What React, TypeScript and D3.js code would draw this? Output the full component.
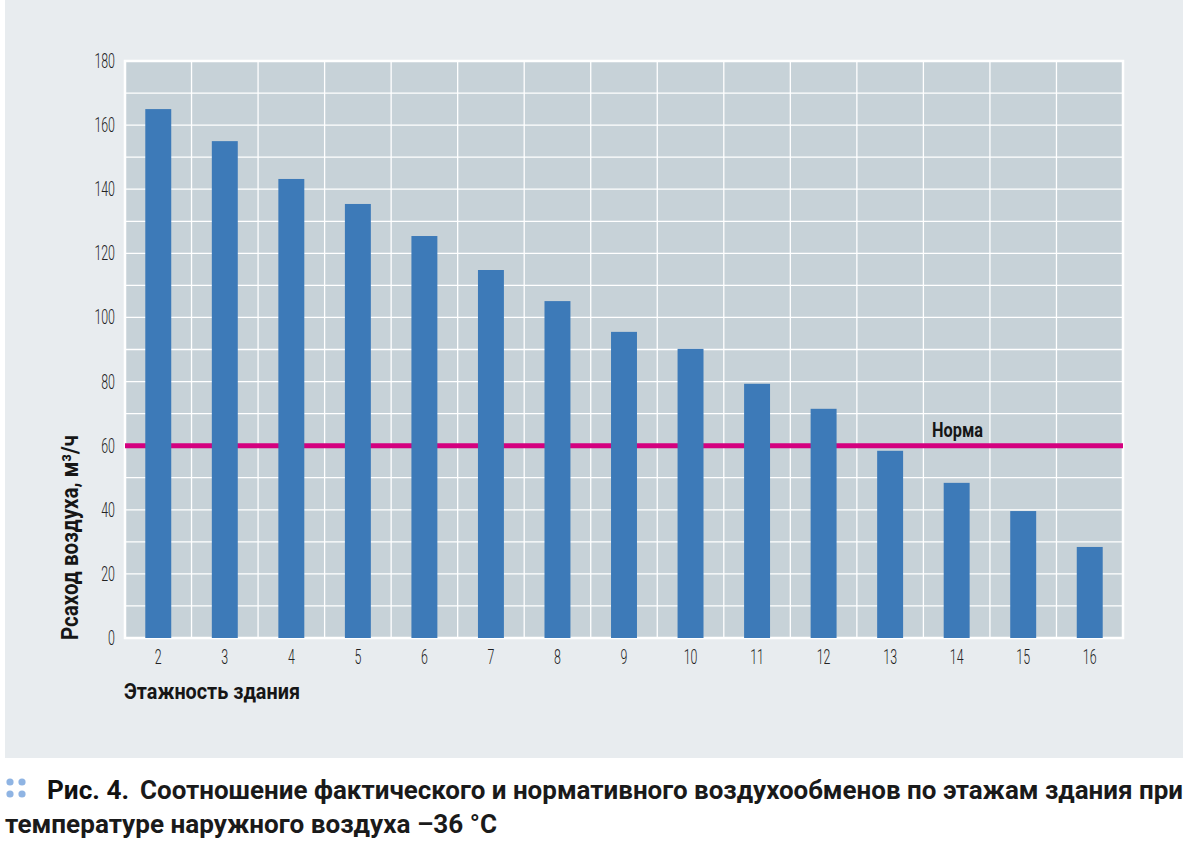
import React from "react";
import * as d3 from "d3";

const floors = ["2", "3", "4", "5", "6", "7", "8", "9", "10", "11", "12", "13", "14", "15", "16"];
const airflow = [165, 155, 143.2, 135.4, 125.4, 114.8, 105.1, 95.5, 90.2, 79.3, 71.5, 58.4, 48.4, 39.6, 28.4];
const normValue = 60;
const normLabel = "Норма";
const yTicks = [0, 20, 40, 60, 80, 100, 120, 140, 160, 180];
const yGrid = [10, 20, 30, 40, 50, 60, 70, 80, 90, 100, 110, 120, 130, 140, 150, 160, 170];
const yTitle = "Рсаход воздуха, м³/ч";
const xTitle = "Этажность здания";
const captionBold = "Рис. 4.";
const captionLine1 = "Соотношение фактического и нормативного воздухообменов по этажам здания при";
const captionLine2 = "температуре наружного воздуха –36 °C";

const W = 1187, H = 846;
const FONT = "Roboto, 'Liberation Sans', sans-serif";
const NX = 0.62;

export default function App() {
  const left = 125, right = 1123, top = 61, bottom = 638;
  const x = d3.scaleBand().domain(floors).range([left, right]).paddingInner(0).paddingOuter(0);
  const y = d3.scaleLinear().domain([0, 180]).range([bottom, top]);
  const bw = x.bandwidth() * 0.39;
  const catBounds = floors.slice(1).map((f) => x(f)!);
  return (
    <svg width={W} height={H} style={{ position: "absolute", left: 0, top: 0, background: "#fff" }}>
      <rect x={5} y={0} width={1178} height={758} fill="#e8ecef" />
      <rect x={left} y={top} width={right - left} height={bottom - top} fill="#c7d2d8" />
      {yGrid.map((v) => (
        <line key={"g" + v} x1={left} x2={right} y1={y(v)} y2={y(v)} stroke="#fff" strokeWidth={1.3} />
      ))}
      {catBounds.map((bx, i) => (
        <line key={"v" + i} x1={bx} x2={bx} y1={top} y2={bottom} stroke="#fff" strokeWidth={1.3} />
      ))}
      <rect x={left} y={top} width={right - left} height={bottom - top} fill="none" stroke="#fff" strokeWidth={2.5} />
      <line x1={left} x2={right} y1={y(normValue)} y2={y(normValue)} stroke="#d4007f" strokeWidth={5} />
      {airflow.map((v, i) => (
        <rect
          key={"b" + i}
          x={x(floors[i])! + x.bandwidth() / 2 - bw / 2}
          y={y(v)}
          width={bw}
          height={y(0) - y(v)}
          fill="#3d7ab8"
        />
      ))}
      <text x={932} y={437} fontFamily={FONT} fontWeight="bold" fontSize={21} fill="#161616" textLength={51} lengthAdjust="spacingAndGlyphs">
        {normLabel}
      </text>
      {yTicks.map((v) => (
        <text key={"t" + v} transform={`translate(115,${y(v) + 7}) scale(${NX},1)`} textAnchor="end" fontFamily={FONT} fontWeight={300} fontSize={20} fill="#222">
          {v}
        </text>
      ))}
      {floors.map((f) => (
        <text key={"x" + f} transform={`translate(${x(f)! + x.bandwidth() / 2},664) scale(${NX},1)`} textAnchor="middle" fontFamily={FONT} fontWeight={300} fontSize={20} fill="#222">
          {f}
        </text>
      ))}
      <text x={124} y={699} fontFamily={FONT} fontWeight="bold" fontSize={22} fill="#161616" textLength={176} lengthAdjust="spacingAndGlyphs">
        {xTitle}
      </text>
      <text transform="translate(78,640) rotate(-90)" fontFamily={FONT} fontWeight="bold" fontSize={23} fill="#161616" textLength={205} lengthAdjust="spacingAndGlyphs">
        {yTitle}
      </text>
      {[[10, 782], [22, 782], [10, 794], [22, 794]].map(([cx, cy], i) => (
        <circle key={"d" + i} cx={cx} cy={cy} r={3.6} fill="#8fb4e3" />
      ))}
      <text x={47} y={799} fontFamily={FONT} fontWeight="bold" fontSize={26} fill="#111" textLength={82} lengthAdjust="spacingAndGlyphs">
        {captionBold}
      </text>
      <text x={140} y={799} fontFamily={FONT} fontWeight="bold" fontSize={26} fill="#1a1a1a" textLength={1043} lengthAdjust="spacingAndGlyphs">
        {captionLine1}
      </text>
      <text x={5} y={833} fontFamily={FONT} fontWeight="bold" fontSize={26} fill="#1a1a1a" textLength={492} lengthAdjust="spacingAndGlyphs">
        {captionLine2}
      </text>
    </svg>
  );
}
